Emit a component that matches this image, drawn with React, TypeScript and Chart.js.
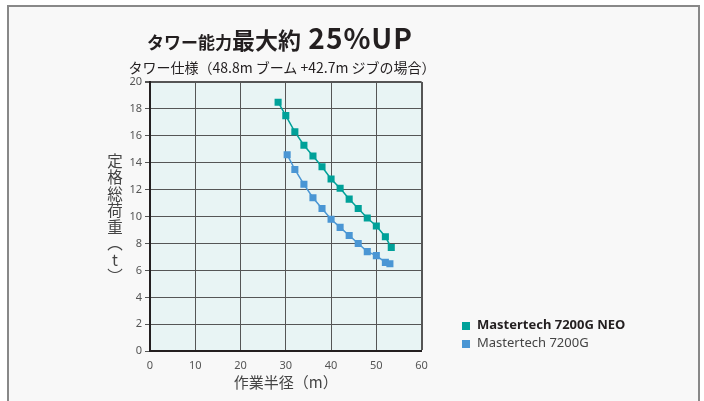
import React, { useEffect, useRef } from "react";
import { Chart, registerables } from "chart.js";

Chart.register(...registerables);

// Data
const neoRadius = [28.3, 30, 32, 34, 36, 38, 40, 42, 44, 46, 48, 50, 52, 53.3];
const neoLoad = [18.5, 17.5, 16.3, 15.3, 14.5, 13.7, 12.8, 12.1, 11.3, 10.6, 9.9, 9.3, 8.5, 7.7];
const oldRadius = [30.3, 32, 34, 36, 38, 40, 42, 44, 46, 48, 50, 52, 53];
const oldLoad = [14.6, 13.5, 12.4, 11.4, 10.6, 9.8, 9.2, 8.6, 8.0, 7.4, 7.1, 6.6, 6.5];

const xRange = [0, 60];
const xStep = 10;
const yRange = [0, 20];
const yStep = 2;

const seriesNames = ["Mastertech 7200G NEO", "Mastertech 7200G"];
const seriesColors = ["#00a199", "#4a96d4"];

const titleParts = ["タワー能力", "最大約", " 25%UP"];
const subtitle = "タワー仕様（48.8m ブーム +42.7m ジブの場合）";
const xTitle = "作業半径（m）";
const yTitle = "定格総荷重（t）";

const JP = "'Noto Sans CJK JP', 'Noto Sans', sans-serif";

const plotBg = {
  id: "plotBg",
  beforeDraw(chart: any) {
    const { ctx, chartArea } = chart;
    if (!chartArea) return;
    ctx.save();
    ctx.fillStyle = "#e8f4f4";
    ctx.fillRect(chartArea.left, chartArea.top, chartArea.width, chartArea.height);
    ctx.restore();
  },
};

export default function App() {
  const ref = useRef<HTMLCanvasElement | null>(null);

  useEffect(() => {
    if (!ref.current) return;
    const toPts = (xs: number[], ys: number[]) => xs.map((x, i) => ({ x, y: ys[i] }));
    const chart = new Chart(ref.current, {
      type: "line",
      data: {
        datasets: [
          {
            label: seriesNames[0],
            data: toPts(neoRadius, neoLoad),
            borderColor: seriesColors[0],
            backgroundColor: seriesColors[0],
            borderWidth: 1.5,
            pointStyle: "rect",
            pointRadius: 5,
            pointBorderWidth: 0,
            tension: 0,
          },
          {
            label: seriesNames[1],
            data: toPts(oldRadius, oldLoad),
            borderColor: seriesColors[1],
            backgroundColor: seriesColors[1],
            borderWidth: 1.5,
            pointStyle: "rect",
            pointRadius: 5,
            pointBorderWidth: 0,
            tension: 0,
          },
        ],
      },
      options: {
        animation: false,
        responsive: false,
        events: [],
        layout: { padding: { left: 110, right: 282.4, top: 82, bottom: 0 } },
        plugins: {
          legend: { display: false },
          title: { display: false },
          tooltip: { enabled: false },
        },
        scales: {
          x: {
            type: "linear",
            min: xRange[0],
            max: xRange[1],
            afterFit: (s: any) => {
              s.height = 49.8;
            },
            ticks: {
              stepSize: xStep,
              padding: 8,
              color: "#555",
              font: { family: "'Noto Sans', sans-serif", size: 11 },
            },
            grid: {
              color: "#555",
              lineWidth: (c: any) => (c.tick && c.tick.value === xRange[1] ? 2 : 1),
              drawTicks: false,
            },
            border: { display: true, color: "#231f20", width: 2 },
            title: {
              display: true,
              text: xTitle,
              color: "#444",
              font: { family: JP, size: 15 },
              padding: { top: 0, bottom: 10 },
            },
          },
          y: {
            type: "linear",
            min: yRange[0],
            max: yRange[1],
            afterFit: (s: any) => {
              s.width = 40;
            },
            ticks: {
              stepSize: yStep,
              padding: 3,
              color: "#555",
              font: { family: "'Noto Sans', sans-serif", size: 11 },
            },
            grid: {
              color: "#555",
              lineWidth: (c: any) => (c.tick && c.tick.value === yRange[1] ? 2 : 1),
              drawTicks: true,
              tickLength: 5,
            },
            border: { display: true, color: "#231f20", width: 2 },
          },
        },
      },
      plugins: [plotBg],
    });
    return () => chart.destroy();
  }, []);

  return (
    <div style={{ position: "fixed", left: 0, top: 0, width: 704, height: 401, overflow: "hidden", background: "#fff" }}>
      <div
        style={{
          position: "absolute",
          left: 7,
          top: 5,
          width: 689,
          height: 400,
          border: "2px solid #888",
          borderBottom: "none",
          background: "#f8f8f8",
        }}
      />
      <canvas
        ref={ref}
        width={704}
        height={401}
        style={{ position: "absolute", left: 0, top: 0, width: 704, height: 401 }}
      />
      <div
        style={{
          position: "absolute",
          left: 80,
          top: 22,
          width: 400,
          height: 30,
          lineHeight: "30px",
          textAlign: "center",
          fontFamily: JP,
          fontWeight: 700,
          color: "#231f20",
          whiteSpace: "nowrap",
        }}
      >
        <span style={{ fontSize: 17 }}>{titleParts[0]}</span>
        <span style={{ fontSize: 23 }}>{titleParts[1]}</span>
        <span style={{ fontSize: 28, letterSpacing: 1 }}>{titleParts[2]}</span>
      </div>
      <div
        style={{
          position: "absolute",
          left: 82,
          top: 58,
          width: 400,
          height: 18,
          lineHeight: "18px",
          textAlign: "center",
          fontFamily: JP,
          fontSize: 14,
          color: "#231f20",
          whiteSpace: "nowrap",
        }}
      >
        {subtitle}
      </div>
      <div
        style={{
          position: "absolute",
          left: 107,
          top: 153,
          writingMode: "vertical-rl",
          textOrientation: "upright",
          fontFamily: JP,
          fontSize: 15.5,
          letterSpacing: 1,
          lineHeight: "16px",
          color: "#444",
          whiteSpace: "nowrap",
        }}
      >
        {yTitle}
      </div>
      {seriesNames.map((name, i) => (
        <div
          key={name}
          style={{
            position: "absolute",
            left: 462,
            top: 315 + i * 18.3,
            height: 18,
            lineHeight: "18px",
            whiteSpace: "nowrap",
            fontFamily: "'Noto Sans', sans-serif",
            fontSize: 13,
            fontWeight: i === 0 ? 700 : 400,
            color: i === 0 ? "#231f20" : "#444",
          }}
        >
          <span
            style={{
              display: "inline-block",
              width: 8,
              height: 8,
              background: seriesColors[i],
              marginRight: 7,
              verticalAlign: "-0.5px",
            }}
          />
          {name}
        </div>
      ))}
    </div>
  );
}
